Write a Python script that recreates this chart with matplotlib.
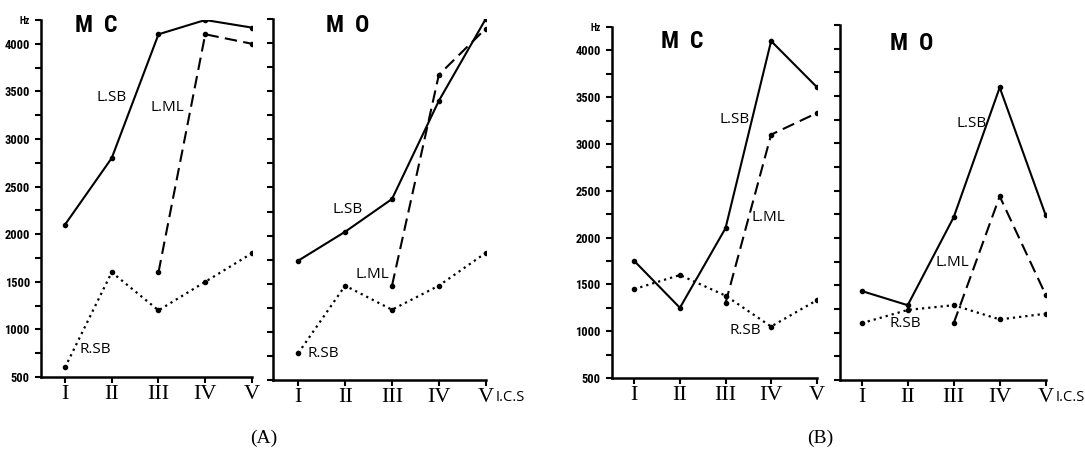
import numpy as np
import matplotlib
matplotlib.use("Agg")
import matplotlib.pyplot as plt

# intercostal spaces I..V, frequency in Hz
ics_labels = ["I", "II", "III", "IV", "V"]
ics = np.arange(1, 6)
nan = np.nan

# (A)
a_mc_lsb = [2100, 2800, 4100, 4250, 4170]
a_mc_lml = [nan, nan, 1600, 4100, 4000]
a_mc_rsb = [600, 1600, 1200, 1500, 1800]
a_mo_lsb = [1740, 2040, 2380, 3400, 4250]
a_mo_lml = [nan, nan, 1480, 3670, 4150]
a_mo_rsb = [780, 1480, 1230, 1480, 1820]

# (B)
b_mc_lsb = [1750, 1250, 2100, 4100, 3610]
b_mc_lml = [nan, nan, 1300, 3100, 3330]
b_mc_rsb = [1450, 1600, 1380, 1050, 1330]
b_mo_lsb = [1440, 1290, 2220, 3590, 2240]
b_mo_lml = [nan, nan, 1100, 2440, 1400]
b_mo_rsb = [1100, 1240, 1290, 1140, 1200]

W, H = 1085, 449
fig = plt.figure(figsize=(W / 100, H / 100), dpi=100)

num_font = dict(family=["Roboto Condensed", "Liberation Sans Narrow", "DejaVu Sans"],
                weight="bold", stretch="condensed")
lab_font = dict(family=["Open Sans", "DejaVu Sans"])
serif = dict(family=["Liberation Serif", "DejaVu Serif"])


def make_panel(left, right, top, bottom, xleft, title, title_xy, lsb, lml, rsb, labels, show_y, ics_tag):
    ax = fig.add_axes([left / W, 1 - bottom / H, (right - left) / W, (bottom - top) / H])
    ax.plot(ics, lsb, color="black", lw=1.5, marker="o", ms=3)
    ax.plot(ics, lml, color="black", lw=1.5, ls=(0, (6, 3)), marker="o", ms=3)
    ax.plot(ics, rsb, color="black", lw=1.6, ls=(0, (1, 1.8)), marker="o", ms=3)
    ax.set_xlim(xleft, 5)
    ax.set_ylim(500, 4250)
    for s in ["top", "right"]:
        ax.spines[s].set_visible(False)
    for s in ["left", "bottom"]:
        ax.spines[s].set_linewidth(1.8)
    ax.set_xticks(ics)
    ax.set_xticklabels(ics_labels, fontsize=16, **serif)
    ax.tick_params(axis="x", direction="out", length=4, width=1.5, pad=2)
    yt = np.arange(500, 4251, 250)
    ax.set_yticks(yt)
    if show_y:
        ylabs = [str(v) if v % 500 == 0 else "" for v in yt]
        ylabs[-1] = "Hz"
        ax.set_yticklabels(ylabs, fontsize=9, **num_font)
        ax.get_yticklabels()[-1].set_fontsize(7)
    else:
        ax.set_yticklabels([])
    ax.tick_params(axis="y", direction="out", length=4, width=1.5, pad=4)
    fig.text(title_xy[0] / W, 1 - title_xy[1] / H, title, ha="center", va="center",
             fontsize=17, **num_font)
    for txt, (x, y) in labels.items():
        ax.text(x, y, txt, ha="center", va="center", fontsize=11, **lab_font)
    if ics_tag:
        ax.annotate("I.C.S", xy=(5, 0), xycoords=("data", "axes fraction"),
                    xytext=(7, -7), textcoords="offset points", ha="left", va="top",
                    fontsize=10.5, **lab_font)
    return ax


make_panel(41, 252, 20, 377, 0.487, "M  C", (96, 25), a_mc_lsb, a_mc_lml, a_mc_rsb,
           {"L.SB": (2.0, 3440), "L.ML": (3.18, 3330), "R.SB": (1.64, 790)}, True, False)
make_panel(273, 485.7, 19, 380, 0.46, "M  O", (348, 25), a_mo_lsb, a_mo_lml, a_mo_rsb,
           {"L.SB": (2.06, 2270), "L.ML": (2.59, 1600), "R.SB": (1.53, 780)}, False, True)
make_panel(611.7, 816.7, 27, 378, 0.504, "M  C", (682, 42), b_mc_lsb, b_mc_lml, b_mc_rsb,
           {"L.SB": (3.21, 3260), "L.ML": (3.95, 2210), "R.SB": (3.43, 1010)}, True, False)
make_panel(840, 1045.7, 25, 380, 0.528, "M  O", (912, 43), b_mo_lsb, b_mo_lml, b_mo_rsb,
           {"L.SB": (3.40, 3210), "L.ML": (2.98, 1740), "R.SB": (1.94, 1100)}, False, True)

fig.text(264 / W, 1 - 438 / H, "(A)", ha="center", va="center", fontsize=14, **serif)
fig.text(820 / W, 1 - 438 / H, "(B)", ha="center", va="center", fontsize=14, **serif)

fig.savefig("out.png", dpi=100)
